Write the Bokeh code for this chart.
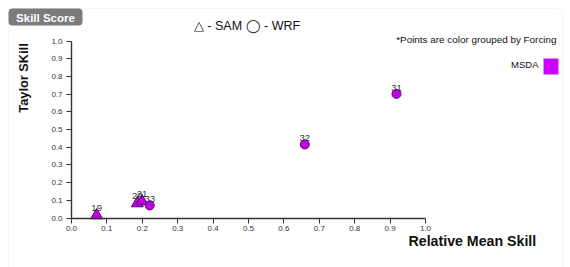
from bokeh.plotting import figure
from bokeh.models import Label, BoxAnnotation, ColumnDataSource, Range1d, FixedTicker, PrintfTickFormatter
from bokeh.core.properties import value
from bokeh.embed import file_html
from bokeh.resources import INLINE
import math

# ---- data ----
rel_mean_skill = [0.071, 0.186, 0.199, 0.221, 0.659, 0.918]
taylor_skill = [0.015, 0.083, 0.095, 0.071, 0.416, 0.702]
run_ids = ["19", "20", "21", "33", "32", "31"]
models = ["SAM", "SAM", "SAM", "WRF", "WRF", "WRF"]
tick_values = [0.0, 0.1, 0.2, 0.3, 0.4, 0.5, 0.6, 0.7, 0.8, 0.9, 1.0]

FONT = "Liberation Sans"
FILL = "#bf00e8"
EDGE = "#5e0078"
W, H = 570, 267

# frame fills the whole canvas; axes are pinned at data 0 with bounds 0..1
p = figure(width=W, height=H, output_backend="svg", toolbar_location=None,
           x_range=Range1d(-71 / 354, (W - 71) / 354),
           y_range=Range1d(-(H - 217.5) / 176.8, 1 + 40.7 / 176.8),
           min_border=0)
p.outline_line_color = None
p.xgrid.visible = False
p.ygrid.visible = False
p.background_fill_color = "white"
p.border_fill_color = "white"

for ax in (p.xaxis[0], p.yaxis[0]):
    ax.fixed_location = 0
    ax.bounds = (0, 1)
    ax.ticker = FixedTicker(ticks=tick_values)
    ax.formatter = PrintfTickFormatter(format="%.1f")
    ax.minor_tick_line_color = None
    ax.major_tick_in = 0
    ax.major_tick_out = 5
    ax.axis_line_color = "#333333"
    ax.axis_line_width = 1.4
    ax.major_tick_line_color = "#333333"
    ax.major_label_text_font = FONT
    ax.major_label_text_font_size = "8px"
    ax.major_label_text_color = "#333344"
p.xaxis.major_label_standoff = 3
p.yaxis.major_label_standoff = 4

def subset(vals, m):
    return [v for v, mm in zip(vals, models) if mm == m]

src_sam = ColumnDataSource(dict(x=subset(rel_mean_skill, "SAM"), y=subset(taylor_skill, "SAM"),
                                t=subset(run_ids, "SAM")))
src_wrf = ColumnDataSource(dict(x=subset(rel_mean_skill, "WRF"), y=subset(taylor_skill, "WRF"),
                                t=subset(run_ids, "WRF")))

p.scatter("x", "y", source=src_sam, marker="triangle", size=12,
          fill_color=FILL, line_color=EDGE, line_width=1)
p.scatter("x", "y", source=src_wrf, marker="circle", size=9,
          fill_color=FILL, line_color=EDGE, line_width=1)

for src, off in ((src_sam, -7), (src_wrf, -6)):
    p.text("x", "y", text="t", source=src, text_font=value(FONT), text_font_size="9.5px",
           text_color="#333333", text_align="center", text_baseline="alphabetic",
           y_offset=off)

# ---- panel chrome (screen units: frame == canvas, y measured up from bottom) ----
def box(l, t, r, b, **kw):
    p.add_layout(BoxAnnotation(left=l, right=r, top=H - t, bottom=H - b,
                               left_units="screen", right_units="screen",
                               top_units="screen", bottom_units="screen", **kw))

box(8, 8, 562, H + 20, fill_alpha=0, line_color="#dcdcdc", line_width=1, border_radius=5)
box(8, 8, 82, 25, fill_color="#7b7b7b", fill_alpha=1, line_color=None, border_radius=4)
box(543, 58, 558, 74, fill_color="#cc00ff", fill_alpha=1, line_color="#e0a0ff", line_width=1)

def lab(text, px, py, size, bold=False, align="left", baseline="middle", angle=0, color="#111111"):
    p.add_layout(Label(x=px, y=H - py, x_units="screen", y_units="screen", text=text,
                       text_font=FONT, text_font_size=size,
                       text_font_style="bold" if bold else "normal",
                       text_align=align, text_baseline=baseline, angle=angle,
                       text_color=color))

lab("Skill Score", 45, 17, "11.5px", bold=True, align="center", color="white")
lab("\u25b3 - SAM \u25ef - WRF", 246.5, 25, "12.5px", align="center")
lab("*Points are color grouped by Forcing", 556, 38.5, "9.9px", align="right")
lab("MSDA", 538, 64, "9.5px", align="right")
lab("Taylor SKill", 23, 77.5, "12.8px", bold=True, align="center", angle=math.pi / 2)
lab("Relative Mean Skill", 408, 240, "14.2px", bold=True)

open("out.html", "w").write(file_html(p, INLINE))
